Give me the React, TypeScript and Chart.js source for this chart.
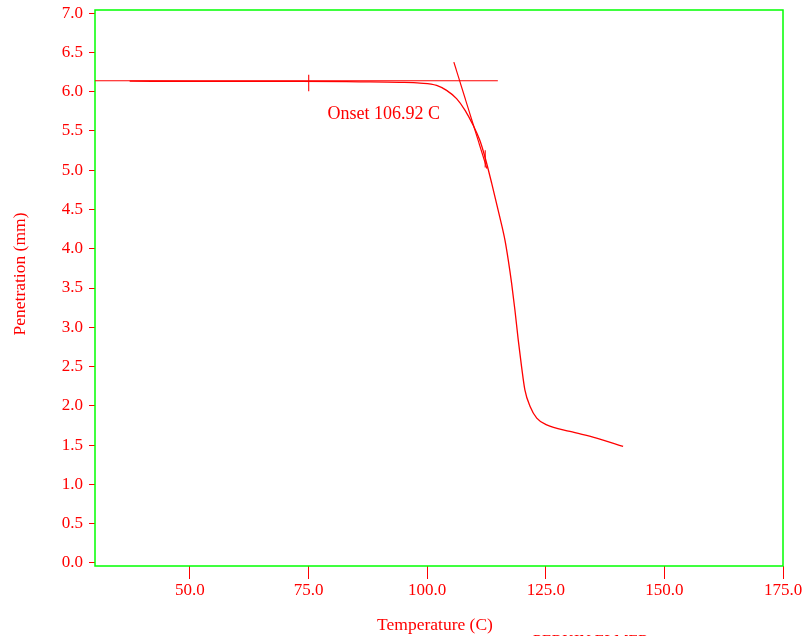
import { useEffect, useRef } from "react";
import { Chart, registerables } from "chart.js";

Chart.register(...registerables);

// ---- data ----
const tempC = [37.3, 52.1, 73.1, 85.8, 94.2, 98.5, 102.0, 104.1, 106.2, 108.0, 109.7, 111.1, 112.2, 113.6, 115.3, 116.4, 117.1, 117.8, 118.5, 119.2, 119.9, 120.6, 121.7, 123.1, 125.2, 130.1, 135.7, 141.3];
const penetrationMm = [6.134, 6.131, 6.131, 6.125, 6.119, 6.11, 6.081, 6.017, 5.912, 5.763, 5.572, 5.381, 5.165, 4.835, 4.406, 4.11, 3.856, 3.563, 3.22, 2.839, 2.499, 2.203, 1.991, 1.843, 1.758, 1.673, 1.589, 1.482];

const baselineX = [30, 114.9];
const baselineY = [6.14, 6.14];
const tangentX = [105.63, 112.6];
const tangentY = [6.377, 5.02];
const baseMarkX = [75.04, 75.04];
const baseMarkY = [6.005, 6.217];
const tanMarkX = [112.24, 112.24];
const tanMarkY = [5.034, 5.254];

const xTicks = [50, 75, 100, 125, 150, 175];
const yTicks = [0, 0.5, 1, 1.5, 2, 2.5, 3, 3.5, 4, 4.5, 5, 5.5, 6, 6.5, 7];
const xRange = [30, 175];
const yRange = [-0.04, 7.04];

const onsetLabel = "Onset 106.92 C";
const onsetPos = [79.0, 5.71];
const xTitle = "Temperature (C)";
const yTitle = "Penetration (mm)";
const footer = "PERKIN ELMER";

const RED = "rgb(255,0,0)";
const GREEN = "rgb(0,255,0)";
const FONT = "'Liberation Serif', 'Times New Roman', serif";

const pts = (xs: number[], ys: number[]) => xs.map((x, i) => ({ x, y: ys[i] }));

const line = (data: { x: number; y: number }[], width = 1.2) => ({
  data,
  borderColor: RED,
  backgroundColor: RED,
  borderWidth: width,
  pointRadius: 0,
  fill: false,
});

export default function App() {
  const ref = useRef<HTMLCanvasElement | null>(null);

  useEffect(() => {
    if (!ref.current) return;

    const framePlugin = {
      id: "frame",
      beforeDatasetsDraw(chart: any) {
        const { ctx, chartArea: a } = chart;
        ctx.save();
        ctx.strokeStyle = GREEN;
        ctx.lineWidth = 1.5;
        ctx.strokeRect(a.left, a.top, a.right - a.left, a.bottom - a.top);
        ctx.restore();
      },
      afterDraw(chart: any) {
        const { ctx } = chart;
        const xs = chart.scales.x;
        const ys = chart.scales.y;
        ctx.save();
        ctx.fillStyle = RED;
        ctx.font = `18px ${FONT}`;
        ctx.textAlign = "left";
        ctx.textBaseline = "middle";
        ctx.fillText(onsetLabel, xs.getPixelForValue(onsetPos[0]), ys.getPixelForValue(onsetPos[1]));

        ctx.font = `17.5px ${FONT}`;
        ctx.textAlign = "center";
        ctx.fillText(xTitle, 435, 625);

        ctx.save();
        ctx.translate(20, 274);
        ctx.rotate(-Math.PI / 2);
        ctx.fillText(yTitle, 0, 0);
        ctx.restore();

        ctx.font = `16px ${FONT}`;
        ctx.textAlign = "left";
        ctx.textBaseline = "top";
        ctx.fillText(footer, 533, 634);
        ctx.restore();
      },
    };

    const chart = new Chart(ref.current, {
      type: "line",
      data: {
        datasets: [
          { ...line(pts(tempC, penetrationMm), 1.3), cubicInterpolationMode: "monotone" } as any,
          line(pts(baselineX, baselineY), 1.1),
          line(pts(tangentX, tangentY), 1.2),
          line(pts(baseMarkX, baseMarkY), 1.1),
          line(pts(tanMarkX, tanMarkY), 1.1),
        ],
      },
      options: {
        animation: false,
        responsive: false,
        parsing: false as any,
        layout: { padding: { top: 10, right: 20, left: 0, bottom: 0 } },
        plugins: { legend: { display: false }, tooltip: { enabled: false } },
        scales: {
          x: {
            type: "linear",
            min: xRange[0],
            max: xRange[1],
            afterBuildTicks: (s: any) => {
              s.ticks = xTicks.map((v) => ({ value: v }));
            },
            afterFit: (s: any) => {
              s.height = 70;
              s.paddingLeft = 0;
              s.paddingRight = 0;
            },
            ticks: {
              color: RED,
              font: { family: FONT, size: 17 },
              padding: 1,
              maxRotation: 0,
              callback: (v: any) => Number(v).toFixed(1),
            },
            grid: { drawOnChartArea: false, drawTicks: true, tickLength: 13, color: RED, lineWidth: 1 },
            border: { display: false },
          },
          y: {
            type: "linear",
            min: yRange[0],
            max: yRange[1],
            afterBuildTicks: (s: any) => {
              s.ticks = yTicks.map((v) => ({ value: v }));
            },
            afterFit: (s: any) => {
              s.width = 95;
              s.paddingTop = 0;
              s.paddingBottom = 0;
            },
            ticks: {
              color: RED,
              font: { family: FONT, size: 17 },
              padding: 6,
              callback: (v: any) => Number(v).toFixed(1),
            },
            grid: { drawOnChartArea: false, drawTicks: true, tickLength: 6, color: RED, lineWidth: 1 },
            border: { display: false },
          },
        },
      },
      plugins: [framePlugin],
    });

    return () => chart.destroy();
  }, []);

  return (
    <div style={{ position: "absolute", left: 0, top: 0, width: 803, height: 636, background: "#fff" }}>
      <canvas ref={ref} width={803} height={636} style={{ display: "block" }} />
    </div>
  );
}
